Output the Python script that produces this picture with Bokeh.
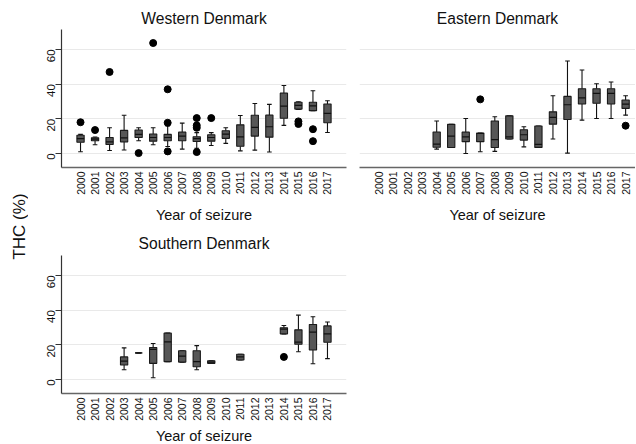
import math
import numpy as np
from bokeh.plotting import figure
from bokeh.models import Range1d, FixedTicker
from bokeh.core.properties import value
from bokeh.layouts import row, column
from bokeh.embed import file_html
from bokeh.resources import INLINE

# ---------------- data (THC %) ----------------
YEARS = list(range(2000, 2018))
Y_TICKS = [0, 20, 40, 60]
Y_LABEL = "THC (%)"
X_LABEL = "Year of seizure"

# Western Denmark
w_title = "Western Denmark"
w_years = list(range(2000, 2018))
w_lo  = [1.0, 5.0, 1.7, 2.0, 7.3, 5.0, 4.0, 2.5, 3.0, 4.6, 5.8, 1.5, 1.9, 0.8, 16.2, 25.4, 24.6, 12.1]
w_q1  = [6.5, 7.3, 5.2, 6.7, 9.2, 7.1, 7.3, 7.3, 6.9, 7.1, 8.7, 4.2, 10.0, 9.4, 20.3, 25.6, 24.7, 17.7]
w_med = [8.5, 8.3, 6.7, 9.0, 11.0, 9.2, 9.2, 10.0, 8.5, 9.2, 11.2, 9.6, 15.0, 15.4, 27.3, 27.7, 27.5, 23.1]
w_q3  = [10.5, 9.0, 9.2, 13.3, 13.5, 11.2, 11.0, 12.3, 9.6, 10.8, 13.1, 16.5, 22.0, 22.1, 34.8, 29.5, 29.5, 28.5]
w_hi  = [11.0, 9.5, 14.8, 22.0, 14.8, 14.8, 15.8, 17.5, 12.0, 12.0, 14.8, 21.9, 28.8, 28.3, 39.2, 29.8, 36.2, 30.4]
w_out_years = [2000, 2001, 2002, 2004, 2005, 2006, 2006, 2006, 2008, 2008, 2008, 2008, 2009, 2015, 2015, 2016, 2016]
w_out_vals  = [18.0, 13.5, 47.0, 0.2, 63.7, 37.0, 17.7, 1.2, 20.4, 16.2, 14.8, 0.8, 20.4, 18.5, 17.0, 14.0, 7.1]

# Eastern Denmark
e_title = "Eastern Denmark"
e_years = list(range(2004, 2018))
e_lo  = [2.5, 3.4, 0.0, 1.0, 1.2, 8.3, 3.8, 3.5, 8.3, 0.2, 19.2, 20.2, 20.2, 22.1]
e_q1  = [3.6, 3.4, 6.8, 6.8, 3.4, 8.3, 7.7, 3.5, 16.9, 19.6, 28.5, 29.0, 28.5, 26.0]
e_med = [5.4, 10.0, 9.6, 11.5, 8.0, 9.6, 10.8, 5.2, 20.8, 28.1, 32.1, 34.6, 34.6, 28.5]
e_q3  = [12.4, 16.8, 12.3, 11.8, 18.7, 21.7, 13.7, 15.8, 24.0, 32.9, 37.3, 37.3, 37.3, 30.8]
e_hi  = [18.7, 16.8, 20.2, 11.8, 21.2, 21.7, 15.4, 15.8, 33.3, 53.3, 48.1, 40.2, 41.2, 33.3]
e_out_years = [2007, 2017]
e_out_vals  = [31.2, 16.0]

# Southern Denmark
s_title = "Southern Denmark"
s_years = [2003, 2004, 2005, 2006, 2007, 2008, 2009, 2011, 2014, 2015, 2016, 2017]
s_lo  = [5.6, 15.3, 1.0, 10.3, 10.0, 5.6, 9.3, 11.2, 26.3, 16.0, 9.1, 12.0]
s_q1  = [8.3, 15.3, 9.3, 10.3, 10.0, 7.3, 9.3, 11.2, 26.3, 20.3, 17.0, 21.5]
s_med = [10.6, 15.3, 17.4, 21.7, 13.5, 10.3, 10.0, 13.0, 29.0, 21.5, 27.3, 26.3]
s_q3  = [13.0, 15.3, 18.4, 26.7, 16.6, 16.6, 10.8, 14.5, 29.8, 28.6, 31.7, 30.9]
s_hi  = [18.2, 15.3, 20.7, 26.7, 16.6, 19.5, 10.8, 14.5, 31.1, 37.1, 36.2, 33.1]
s_out_years = [2014]
s_out_vals  = [13.0]

# ---------------- styling / layout (pixels) ----------------
FONT = "Liberation Sans"
INK = "#111111"
BOX_W = 0.5
CAP_W = 0.32
BOX_FILL = "#575757"
GRID = "#e9e9e9"
Y_MIN, Y_MAX = -8.1, 71.5

LAB_W = 28            # column holding the shared y title
LEFT_W = 324          # Western / Southern figure width
RIGHT_W = 283         # Eastern figure width
L_BORDERS = (33, 6)   # left/right borders of the left column figures
R_BORDERS = (7, 0)    # left/right borders of the right column figures
X_LEFT = (1998.69, 2018.31)
X_RIGHT = (1998.69, 2017.68)
FRAME_H = 138
AX_BOTTOM = 32        # space under frame for the year labels
TOP_H = 29            # strip above the first row (panel titles)
MID_H = 56            # strip between the rows (x titles + southern title)
TOTAL_H = 443
PANEL_H = FRAME_H + AX_BOTTOM
BOT_H = TOTAL_H - TOP_H - PANEL_H - MID_H - PANEL_H


def draw_boxes(p, yrs, lo, q1, med, q3, hi, oy, ov):
    x = np.array(yrs, dtype=float)
    lo, q1, med, q3, hi = (np.array(a, dtype=float) for a in (lo, q1, med, q3, hi))
    p.segment(x0=x, y0=q3, x1=x, y1=hi, line_color=INK, line_width=1.1)
    p.segment(x0=x, y0=lo, x1=x, y1=q1, line_color=INK, line_width=1.1)
    p.segment(x0=x - CAP_W / 2, y0=hi, x1=x + CAP_W / 2, y1=hi, line_color=INK, line_width=1.1)
    p.segment(x0=x - CAP_W / 2, y0=lo, x1=x + CAP_W / 2, y1=lo, line_color=INK, line_width=1.1)
    p.vbar(x=x, bottom=q1, top=q3, width=BOX_W, fill_color=BOX_FILL,
           line_color="#1a1a1a", line_width=1.1)
    p.segment(x0=x - BOX_W / 2, y0=med, x1=x + BOX_W / 2, y1=med, line_color=INK, line_width=1.2)
    p.scatter(x=np.array(oy, dtype=float), y=np.array(ov, dtype=float), size=7,
              fill_color="#000000", line_color="#000000")


def make_panel(width, xr, show_y, borders):
    p = figure(width=width, height=PANEL_H, output_backend="svg", toolbar_location=None,
               title=None,
               x_range=Range1d(*xr), y_range=Range1d(Y_MIN, Y_MAX),
               min_border_left=borders[0], min_border_right=borders[1],
               min_border_top=0, min_border_bottom=AX_BOTTOM)
    p.outline_line_color = None
    p.background_fill_color = "white"
    p.border_fill_color = "white"

    p.xgrid.visible = False
    p.ygrid.ticker = FixedTicker(ticks=Y_TICKS)
    p.ygrid.grid_line_color = GRID
    p.ygrid.grid_line_width = 1.2

    xa = p.xaxis[0]
    xa.ticker = FixedTicker(ticks=YEARS)
    xa.major_label_orientation = math.pi / 2
    xa.major_tick_out = 0
    xa.major_tick_in = 0
    xa.minor_tick_out = 0
    xa.minor_tick_in = 0
    xa.major_label_text_font = FONT
    xa.major_label_text_font_size = "10.5px"
    xa.major_label_text_color = INK
    xa.major_label_standoff = 4
    xa.axis_line_color = "#666666"
    xa.axis_line_width = 1.3

    ya = p.yaxis[0]
    ya.ticker = FixedTicker(ticks=Y_TICKS)
    if show_y:
        ya.major_label_orientation = math.pi / 2
        ya.major_tick_out = 6
        ya.major_tick_in = 0
        ya.minor_tick_out = 0
        ya.minor_tick_in = 0
        ya.major_tick_line_color = "#333333"
        ya.axis_line_color = "#333333"
        ya.axis_line_width = 1.2
        ya.major_label_text_font = FONT
        ya.major_label_text_font_size = "11.5px"
        ya.major_label_text_color = INK
        ya.major_label_standoff = 4
    else:
        ya.visible = False
    return p


def make_strip(width, xr, borders, height, top_px):
    """Blank text strip over one panel column; y data = page pixels (downwards)."""
    s = figure(width=width, height=height, output_backend="svg", toolbar_location=None,
               title=None, x_range=Range1d(*xr),
               y_range=Range1d(top_px + height, top_px),
               min_border_left=borders[0], min_border_right=borders[1],
               min_border_top=0, min_border_bottom=0)
    s.outline_line_color = None
    s.axis.visible = False
    s.grid.visible = False
    return s


def put_text(s, xr, ys, texts, size):
    mid = (xr[0] + xr[1]) / 2
    s.text(x=[mid] * len(ys), y=ys, text=texts, text_font=value(FONT),
           text_font_size=value(size), text_color=INK,
           text_align="center", text_baseline="middle")


# panels
pw = make_panel(LEFT_W, X_LEFT, True, L_BORDERS)
draw_boxes(pw, w_years, w_lo, w_q1, w_med, w_q3, w_hi, w_out_years, w_out_vals)

pe = make_panel(RIGHT_W, X_RIGHT, False, R_BORDERS)
draw_boxes(pe, e_years, e_lo, e_q1, e_med, e_q3, e_hi, e_out_years, e_out_vals)

ps = make_panel(LEFT_W, X_LEFT, True, L_BORDERS)
draw_boxes(ps, s_years, s_lo, s_q1, s_med, s_q3, s_hi, s_out_years, s_out_vals)

# text strips
top_l = make_strip(LEFT_W, X_LEFT, L_BORDERS, TOP_H, 0)
put_text(top_l, X_LEFT, [18], [w_title], "15.6px")
top_r = make_strip(RIGHT_W, X_RIGHT, R_BORDERS, TOP_H, 0)
put_text(top_r, X_RIGHT, [18], [e_title], "15.6px")

mid_top = TOP_H + PANEL_H
mid_l = make_strip(LEFT_W, X_LEFT, L_BORDERS, MID_H, mid_top)
put_text(mid_l, X_LEFT, [214], [X_LABEL], "14.5px")
put_text(mid_l, X_LEFT, [243], [s_title], "15.6px")
mid_r = make_strip(RIGHT_W, X_RIGHT, R_BORDERS, MID_H, mid_top)
put_text(mid_r, X_RIGHT, [214], [X_LABEL], "14.5px")

bot_top = mid_top + MID_H + PANEL_H
bot_l = make_strip(LEFT_W, X_LEFT, L_BORDERS, BOT_H, bot_top)
put_text(bot_l, X_LEFT, [bot_top + BOT_H / 2 + 1], [X_LABEL], "14.5px")

# shared y title
pl = figure(width=LAB_W, height=TOTAL_H, output_backend="svg", toolbar_location=None, title=None,
            x_range=Range1d(0, LAB_W), y_range=Range1d(TOTAL_H, 0),
            min_border_left=0, min_border_right=0, min_border_top=0, min_border_bottom=0)
pl.outline_line_color = None
pl.axis.visible = False
pl.grid.visible = False
pl.text(x=[19], y=[226], text=[Y_LABEL], angle=math.pi / 2,
        text_font=value(FONT), text_font_size=value("17px"), text_color=INK,
        text_align="center", text_baseline="middle")

layout = row(pl,
             column(row(top_l, top_r, spacing=0),
                    row(pw, pe, spacing=0),
                    row(mid_l, mid_r, spacing=0),
                    ps,
                    bot_l,
                    spacing=0),
             spacing=0)

open("out.html", "w").write(file_html(layout, INLINE))
